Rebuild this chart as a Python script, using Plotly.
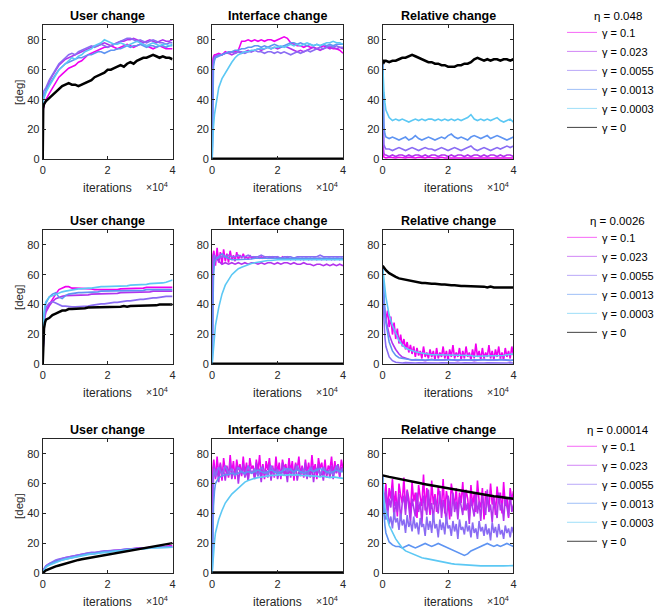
import plotly.graph_objects as go

W, H = 669, 608

# ---------------- sampling grids (iterations) ----------------
X44 = [0, 150, 400, 700] + list(range(1000, 40001, 1000))
X82 = [0, 150] + list(range(500, 40001, 500))
X2 = [0, 40000]

GAMMAS = ["γ = 0.1", "γ = 0.023", "γ = 0.0055", "γ = 0.0013", "γ = 0.0003", "γ = 0"]
ETAS = ["η = 0.048", "η = 0.0026", "η = 0.00014"]
TITLES = ["User change", "Interface change", "Relative change"]
COLORS = ["#f000f0", "#b233ee", "#8a6cf3", "#5e94f2", "#5cc8f4", "#000000"]
XTICKS = [0, 20000, 40000]
XTICKTEXT = ["0", "2", "4"]
YTICKS = [0, 20, 40, 60, 80]

# ---------------- eta = 0.048 ----------------
u1_a = [0, 33, 36, 38, 40, 44, 48, 52, 55, 57, 59, 61, 62, 63, 65, 66, 68, 70, 71, 72, 73, 74, 75, 75, 76, 75, 74, 75, 76, 77, 76, 75, 76, 77, 77, 76, 75, 74, 75, 76, 75, 74, 74, 74]
u1_b = [0, 40, 42, 44, 46, 52, 56, 60, 63, 65, 67, 68, 69, 70, 71, 72, 73, 74, 75, 76, 76, 77, 78, 77, 76, 77, 78, 79, 79, 80, 80, 81, 80, 79, 78, 79, 80, 79, 78, 79, 80, 79, 79, 80]
u1_c = [0, 44, 46, 47, 48, 53, 57, 61, 64, 66, 68, 70, 71, 70, 72, 73, 74, 75, 76, 75, 76, 77, 76, 75, 76, 77, 78, 79, 80, 81, 81, 80, 79, 80, 79, 78, 79, 80, 79, 78, 78, 77, 78, 78]
u1_d = [0, 42, 43, 45, 46, 50, 54, 57, 60, 62, 64, 65, 66, 67, 68, 68, 69, 70, 70, 71, 72, 72, 71, 72, 73, 73, 74, 74, 75, 76, 75, 76, 76, 77, 76, 75, 76, 76, 75, 76, 76, 75, 76, 76]
u1_e = [0, 40, 41, 43, 45, 49, 53, 57, 60, 62, 64, 66, 68, 67, 69, 70, 72, 73, 74, 76, 77, 78, 80, 79, 78, 77, 77, 78, 77, 76, 77, 78, 79, 78, 77, 76, 77, 78, 77, 76, 77, 77, 76, 77]
u1_k = [0, 34, 37, 38, 39, 41, 43, 45, 47, 49, 50, 51, 50, 50, 49, 50, 51, 52, 53, 55, 56, 57, 58, 60, 60, 61, 62, 63, 62, 64, 65, 64, 66, 67, 68, 68, 69, 70, 69, 68, 69, 68, 68, 67]

i1_a = [0, 66, 69, 70, 70, 71, 70, 72, 71, 72, 72, 73, 79, 79, 80, 79, 80, 79, 80, 79, 80, 80, 79, 80, 81, 82, 81, 78, 77, 76, 76, 75, 76, 75, 75, 74, 75, 76, 75, 75, 74, 74, 73, 71]
i1_b = [0, 65, 68, 69, 69, 70, 70, 71, 71, 70, 71, 72, 71, 72, 73, 72, 73, 74, 73, 74, 75, 74, 75, 74, 75, 76, 75, 74, 73, 72, 73, 72, 73, 74, 75, 74, 73, 74, 75, 74, 75, 74, 75, 74]
i1_c = [0, 60, 66, 68, 69, 70, 70, 71, 71, 72, 71, 72, 72, 71, 72, 72, 73, 72, 72, 71, 72, 72, 71, 72, 71, 72, 71, 70, 71, 72, 71, 72, 73, 72, 73, 74, 75, 74, 75, 76, 75, 76, 75, 75]
i1_d = [0, 45, 62, 66, 68, 69, 70, 71, 72, 72, 73, 73, 74, 74, 75, 75, 76, 76, 75, 76, 75, 76, 77, 76, 75, 76, 77, 78, 78, 77, 78, 77, 76, 77, 76, 77, 76, 77, 76, 77, 76, 77, 77, 77]
i1_e = [0, 10, 22, 30, 35, 48, 54, 58, 62, 65, 68, 70, 71, 72, 72, 73, 73, 74, 74, 74, 75, 74, 75, 75, 76, 75, 76, 77, 76, 77, 76, 77, 78, 77, 76, 77, 76, 77, 78, 78, 79, 78, 78, 77]
i1_k = [0, 0]

r1_a = [65, 3, 1.5, 1, 1, 1.5, 1, 1, 1.5, 1, 1, 1.5, 1, 1, 1.5, 1, 1, 1.5, 1, 1, 1, 1.5, 1, 1, 1.5, 1, 1, 1, 1.5, 1, 1, 1.5, 1, 1, 1, 1.5, 1, 1, 1.5, 1, 1, 1, 1.5, 1]
r1_b = [65, 10, 4, 3, 3, 2, 3, 2, 3, 3, 2, 3, 2, 3, 3, 2, 3, 2, 3, 3, 2, 3, 3, 2, 3, 2, 3, 3, 2, 3, 2, 3, 3, 2, 3, 2, 3, 3, 2, 3, 2, 3, 3, 2]
r1_c = [65, 25, 10, 8, 7, 7, 6, 7, 8, 7, 6, 7, 8, 7, 6, 7, 8, 7, 7, 6, 7, 8, 7, 6, 7, 8, 7, 6, 7, 8, 9, 7, 6, 7, 8, 7, 6, 7, 8, 7, 8, 9, 8, 9]
r1_d = [65, 40, 22, 17, 15, 14, 15, 14, 13, 14, 15, 13, 14, 16, 14, 13, 14, 15, 14, 13, 14, 15, 14, 16, 17, 15, 14, 15, 14, 13, 15, 16, 15, 14, 15, 16, 14, 15, 16, 15, 14, 13, 14, 15]
r1_e = [65, 55, 45, 38, 33, 28, 26, 27, 26, 27, 26, 25, 26, 27, 26, 27, 26, 27, 27, 26, 27, 26, 27, 26, 27, 26, 27, 26, 27, 28, 30, 27, 26, 27, 26, 27, 26, 27, 28, 26, 25, 26, 27, 25]
r1_k = [66, 66, 65, 66, 66, 65, 66, 66, 67, 68, 68, 69, 70, 69, 68, 67, 66, 65, 65, 64, 64, 63, 63, 62, 62, 62, 63, 63, 64, 64, 65, 67, 68, 67, 66, 67, 66, 67, 67, 66, 67, 67, 66, 67]

# ---------------- eta = 0.0026 ----------------
u2_a = [0, 20, 30, 34, 36, 40, 44, 47, 50, 51, 52, 52, 51, 51, 51, 51, 51, 50.5, 50.5, 50, 50, 50, 50, 50, 49.5, 50, 50, 50.5, 50.5, 50.5, 51, 51, 51, 51, 51, 51.5, 51.5, 51.5, 51.5, 52, 52, 52, 52, 51.5]
u2_b = [0, 18, 28, 32, 35, 39, 42, 44, 45, 45.5, 46, 46, 46, 46, 46.5, 46.5, 46.5, 46.5, 47, 47, 47, 47, 47, 47.5, 47.5, 47.5, 47.5, 48, 48, 48, 48, 48, 48, 48.5, 48.5, 48.5, 48.5, 49, 49, 49, 49, 49, 49, 49]
u2_c = [0, 18, 28, 34, 38, 41, 42, 41, 40, 39, 39, 38.5, 38.5, 38.5, 38.5, 39, 39, 39, 39.5, 40, 40, 40.5, 40.5, 41, 41, 41.5, 41.5, 42, 42, 42.5, 42.5, 43, 43, 43.5, 43.5, 44, 44, 44.5, 44.5, 45, 45, 45.5, 45.5, 45.5]
u2_d = [0, 20, 32, 38, 41, 45, 47, 48, 45, 44, 46, 47, 47.5, 48, 48, 48, 48, 48.5, 48.5, 48.5, 48.5, 49, 49, 49, 49, 49, 49, 49, 49.5, 49.5, 49.5, 49.5, 49.5, 49.5, 49.5, 50, 50, 50, 50, 50, 50, 50, 50, 50]
u2_e = [0, 22, 34, 40, 42, 45, 46, 47, 48, 48.5, 49, 49.5, 50, 50, 50.5, 50.5, 51, 51, 51, 51.5, 51.5, 52, 52, 52, 52, 52, 52, 52.5, 52.5, 52.5, 53, 53, 53, 53.5, 53.5, 53.5, 54, 54, 54, 54.5, 54.5, 55, 55.5, 56.5]
u2_k = [0, 15, 24, 28, 30, 31, 33, 34, 35, 36, 36, 37, 37, 37, 37, 37.5, 37.5, 38, 38, 38, 38, 38, 38, 38, 38, 38.5, 38.5, 38.5, 39, 38.5, 39, 39, 39, 39, 39, 39.5, 39.5, 39.5, 39.5, 40, 40, 40, 40, 40]

i2_a = [0, 72, 76, 66, 78, 68, 75, 67, 77, 69, 74, 68, 76, 70, 73, 69, 75, 70, 73, 71, 74, 71, 72, 70, 73, 71, 72, 71, 72, 72, 71, 72, 71, 72, 71, 71, 72, 71, 72, 71, 71, 72, 71, 71, 72, 71, 71, 72, 71, 70, 71, 71, 70, 71, 71, 70, 71, 70, 71, 71, 70, 71, 70, 71, 71, 70, 71, 71, 70, 71, 71, 70, 71, 71, 70, 71, 70, 71, 71, 70, 71, 70]
i2_b = [0, 70, 74, 68, 72, 69, 67, 68, 67, 68, 67, 68, 67, 68, 67, 68, 68, 67, 68, 67, 68, 68, 67, 68, 67, 68, 68, 67, 68, 67, 67, 68, 67, 67, 66, 67, 67, 66, 67, 66, 67, 66, 67, 66]
i2_c = [0, 60, 70, 73, 72, 71, 72, 72, 73, 72, 72, 73, 72, 72, 73, 72, 72, 72, 73, 72, 72, 72, 72, 72, 71, 72, 72, 72, 71, 72, 72, 72, 72, 72, 72, 72, 73, 72, 72, 72, 72, 72, 72, 72]
i2_d = [0, 40, 60, 68, 70, 72, 74, 72, 71, 70, 70, 70, 70, 70.5, 70.5, 70.5, 71, 71, 71, 71, 71, 71, 71.5, 71.5, 71, 71, 71, 71.5, 71.5, 71.5, 71, 71, 71, 71.5, 71.5, 71.5, 71.5, 71, 71, 71, 71.5, 71.5, 71, 71]
i2_e = [0, 5, 12, 20, 26, 38, 47, 53, 57, 60, 62, 64, 65, 66, 67, 67.5, 68, 68.5, 69, 69, 69.5, 69.5, 70, 70, 70, 70, 70, 70.5, 70.5, 70, 70, 70, 70.5, 70.5, 70.5, 70, 70, 70, 70.5, 70.5, 70, 70, 70, 70]
i2_k = [0, 0]

r2_a = [65, 45, 38, 30, 36, 25, 32, 20, 28, 17, 24, 14, 20, 12, 17, 10, 15, 8, 13, 7, 12, 5, 11, 6, 9, 4, 12, 5, 8, 4, 10, 5, 9, 3, 11, 4, 8, 5, 12, 4, 9, 3, 10, 5, 13, 4, 8, 5, 11, 3, 9, 4, 12, 5, 8, 3, 10, 4, 14, 5, 9, 3, 11, 4, 8, 5, 13, 4, 9, 3, 10, 5, 12, 4, 8, 3, 11, 5, 9, 4, 12, 6]
r2_b = [65, 55, 42, 35, 30, 20, 14, 10, 7, 5, 4, 3.5, 3, 3, 3.5, 3, 2.5, 3, 3.5, 3, 3, 2.5, 3, 3.5, 3, 3, 2.5, 3, 3, 3.5, 3, 2.5, 3, 3, 3.5, 3, 3, 2.5, 3, 3.5, 3, 3, 2.5, 3]
r2_c = [65, 50, 30, 18, 12, 5, 2.5, 1.5, 1.2, 1, 1.2, 1, 0.9, 1, 1.1, 1, 1, 1.2, 1, 0.9, 1, 1.1, 1, 1, 1.2, 1, 0.9, 1, 1.1, 1, 1, 1.2, 1, 0.9, 1, 1.1, 1, 1, 1.2, 1, 0.9, 1, 1.1, 1]
r2_d = [65, 58, 45, 35, 28, 15, 9, 6, 4.5, 4, 3.5, 3.5, 3, 3.2, 3, 2.8, 3, 3.1, 3, 3, 3.2, 3, 2.8, 3, 3.1, 3, 3, 3.2, 3, 2.8, 3, 3.1, 3, 3, 3.2, 3, 2.8, 3, 3.1, 3, 3, 3.2, 3, 2.8]
r2_e = [65, 62, 56, 50, 45, 33, 26, 21, 16, 13, 11, 10, 9, 8.5, 8, 7.5, 7, 7, 6.5, 6.5, 6.5, 6, 6, 6, 6, 6, 6.5, 6.5, 6, 6, 6, 5.5, 5.5, 6, 6, 6, 6, 5.5, 5.5, 5.5, 6, 6.5, 7, 7]
r2_k = [66, 65.5, 65, 64, 63, 61, 59.5, 58.5, 57.5, 57, 56.5, 56, 55.5, 55, 55, 54.5, 54.5, 54, 54, 54, 53.5, 53.5, 53.5, 53, 53, 53, 52.5, 52.5, 52.5, 52.5, 52, 52, 52, 52, 52, 51.5, 52, 51.5, 51.5, 51.5, 51.5, 51.5, 51.5, 51.5]

# ---------------- eta = 0.00014 ----------------
u3_a = [0, 1.5, 2.5, 3.5, 4.5, 6, 7, 8, 9, 9.5, 10, 10.5, 11, 11.5, 12, 12, 12.5, 13, 13, 13.5, 14, 14, 14.5, 14.5, 15, 15, 15.5, 15.5, 16, 16, 16.5, 16.5, 16.5, 17, 17, 17, 17.5, 17.5, 17.5, 18, 18, 18, 18.5, 18.5]
u3_b = [0, 1.5, 3, 4, 5, 6.5, 7.5, 8.5, 9, 10, 10.5, 11, 11.5, 12, 12, 12.5, 13, 13.5, 13.5, 14, 14, 14.5, 14.5, 15, 15, 15.5, 15.5, 16, 16, 16, 16.5, 16.5, 17, 17, 17, 17.5, 17.5, 17.5, 18, 18, 18, 18, 18.5, 18]
u3_c = [0, 1.5, 3, 4, 5, 6.5, 8, 9, 9.5, 10, 10.5, 11, 11.5, 12, 12.5, 13, 13, 13.5, 14, 14, 14.5, 14.5, 15, 15, 15.5, 15.5, 15.5, 16, 16, 16.5, 16.5, 16.5, 17, 17, 17, 17, 17.5, 17.5, 17.5, 17.5, 17.5, 17.5, 17.5, 17.5]
u3_d = [0, 1, 2.5, 3.5, 4.5, 6, 7, 8, 8.5, 9.5, 10, 10.5, 11, 11.5, 12, 12, 12.5, 13, 13, 13.5, 13.5, 14, 14, 14.5, 14.5, 15, 15, 15.5, 15.5, 16, 16, 16, 16.5, 16.5, 16.5, 17, 17, 17, 17, 17.5, 17.5, 17.5, 17.5, 17.5]
u3_e = [0, 1, 2, 3, 4, 5.5, 6.5, 7.5, 8.5, 9, 9.5, 10, 10.5, 11, 11.5, 12, 12, 12.5, 13, 13, 13.5, 13.5, 14, 14, 14.5, 14.5, 15, 15, 15.5, 15.5, 16, 16, 16, 16.5, 16.5, 16.5, 17, 17, 17, 17.5, 17.5, 17.5, 17.5, 17.5]
u3_k = [0, 0.5, 1, 1.5, 2, 3, 4, 4.7, 5.3, 6, 6.6, 7.2, 7.8, 8.5, 9, 9.4, 9.8, 10.2, 10.6, 11, 11.4, 11.8, 12.2, 12.6, 13, 13.3, 13.6, 14, 14.4, 14.8, 15.2, 15.6, 16, 16.4, 16.8, 17.1, 17.4, 17.8, 18.2, 18.6, 19, 19.4, 19.8, 20.2]

i3_a = [0, 70, 76, 63, 78, 66, 74, 62, 77, 68, 72, 64, 79, 67, 75, 63, 76, 69, 73, 65, 78, 66, 74, 62, 77, 70, 72, 64, 76, 68, 79, 65, 73, 63, 75, 69, 77, 66, 72, 64, 78, 67, 74, 63, 76, 70, 73, 65, 77, 68, 75, 62, 74, 69, 78, 66, 72, 64, 76, 67, 74, 65, 79, 68, 73, 63, 77, 70, 74, 66, 76, 64, 72, 69, 78, 65, 75, 67, 73, 64, 76, 70]
i3_b = [0, 65, 72, 64, 70, 61, 73, 66, 69, 62, 71, 65, 74, 63, 68, 67, 72, 60, 70, 66, 73, 64, 69, 62, 71, 67, 68, 63, 74, 65, 70, 61, 72, 66, 69, 64, 73, 62, 70, 67, 71, 63, 68, 65, 74, 66, 69, 61, 72, 64, 70, 67, 73, 62, 68, 65, 71, 66, 74, 63, 69, 64, 72, 61, 70, 67, 73, 65, 68, 62, 71, 66, 69, 64, 72, 63, 70, 67, 73, 65, 71, 68]
i3_c = [0, 55, 66, 70, 65, 71, 66, 72, 67, 70, 65, 71, 68, 66, 72, 67, 70, 65, 71, 68, 66, 72, 67, 69, 65, 71, 68, 70, 66, 72, 67, 69, 65, 71, 68, 70, 66, 71, 67, 69, 66, 72, 68, 70]
i3_d = [0, 20, 45, 55, 60, 64, 65, 66, 66, 67, 66, 67, 68, 67, 68, 67, 68, 69, 68, 67, 68, 69, 68, 67, 68, 69, 70, 69, 68, 69, 68, 67, 68, 69, 68, 69, 70, 69, 68, 67, 68, 69, 68, 68]
i3_e = [0, 6, 14, 21, 27, 36, 42, 47, 50, 53, 55, 57, 59, 61, 62, 63, 63.5, 64, 64.5, 65, 65, 65.5, 65.5, 66, 66, 65.5, 66, 66, 65.5, 66, 65.5, 65.5, 65, 65.5, 65, 65, 64.5, 65, 64.5, 64, 64.5, 64, 64, 63.5]
i3_k = [0, 0]

r3_a = [65, 55, 48, 60, 42, 57, 50, 63, 45, 55, 38, 60, 52, 47, 64, 43, 56, 50, 40, 61, 48, 54, 37, 59, 51, 45, 66, 42, 57, 49, 39, 62, 46, 53, 41, 58, 50, 44, 63, 40, 55, 48, 36, 60, 52, 45, 57, 39, 54, 47, 61, 42, 56, 50, 38, 59, 45, 53, 41, 62, 48, 44, 57, 36, 55, 50, 43, 60, 46, 52, 39, 58, 47, 54, 40, 61, 45, 51, 37, 57, 49, 55]
r3_b = [65, 50, 42, 55, 38, 50, 44, 57, 36, 48, 41, 53, 35, 47, 52, 39, 55, 43, 34, 50, 45, 38, 54, 41, 48, 33, 52, 44, 39, 56, 42, 47, 35, 51, 45, 40, 55, 37, 49, 43, 34, 52, 46, 38, 54, 41, 48, 36, 51, 44, 39, 55, 42, 47, 33, 50, 45, 38, 53, 40, 48, 35, 52, 44, 39, 56, 41, 46, 34, 50, 43, 37, 54, 42, 47, 35, 51, 44, 38, 53, 41, 46]
r3_c = [65, 50, 40, 36, 42, 33, 38, 30, 41, 34, 37, 29, 40, 32, 36, 27, 39, 31, 35, 28, 38, 30, 34, 26, 37, 31, 33, 25, 38, 29, 35, 27, 40, 30, 33, 24, 36, 29, 34, 26, 38, 30, 32, 25, 35, 28, 33, 23, 36, 29, 31, 26, 35, 28, 32, 24, 34, 27, 30, 23, 35, 28, 31, 25, 33, 26, 30, 22, 34, 27, 31, 24, 33, 26, 29, 23, 32, 27, 30, 24, 31, 27]
r3_d = [65, 52, 40, 32, 27, 21, 19, 18, 18, 17, 18, 19, 18, 17, 18, 19, 20, 19, 18, 19, 20, 19, 18, 17, 16, 15, 14, 13, 12, 13, 15, 16, 17, 18, 19, 20, 19, 18, 19, 18, 19, 20, 19, 18]
r3_e = [65, 58, 50, 44, 40, 32, 27, 23, 20, 17, 15, 14, 13, 12, 11, 10.5, 10, 9.5, 9, 8.5, 8, 7.5, 7, 6.8, 6.5, 6.2, 6, 5.8, 5.5, 5.3, 5.2, 5, 5, 5, 5, 4.8, 5, 5, 5.2, 5, 5, 5.2, 5.3, 5.2]
r3_k = [65.5, 65.5, 65.3, 65.2, 65, 64.5, 64, 63.5, 63, 62.5, 62, 61.5, 61, 60.7, 60.3, 60, 59.6, 59.2, 58.8, 58.4, 58, 57.6, 57.2, 56.8, 56.4, 56, 55.6, 55.2, 54.8, 54.4, 54, 53.6, 53.2, 52.8, 52.5, 52.2, 51.9, 51.6, 51.3, 51, 50.7, 50.4, 50.1, 49.8]

PANELS = [
    [[u1_a, u1_b, u1_c, u1_d, u1_e, u1_k], [i1_a, i1_b, i1_c, i1_d, i1_e, i1_k], [r1_a, r1_b, r1_c, r1_d, r1_e, r1_k]],
    [[u2_a, u2_b, u2_c, u2_d, u2_e, u2_k], [i2_a, i2_b, i2_c, i2_d, i2_e, i2_k], [r2_a, r2_b, r2_c, r2_d, r2_e, r2_k]],
    [[u3_a, u3_b, u3_c, u3_d, u3_e, u3_k], [i3_a, i3_b, i3_c, i3_d, i3_e, i3_k], [r3_a, r3_b, r3_c, r3_d, r3_e, r3_k]],
]

GRIDS = {len(X44): X44, len(X82): X82, len(X2): X2}

# ---------------- layout geometry (pixels) ----------------
COL_PX = [(32, 163), (203, 335), (375, 507)]
ROW_PX = [(17, 153), (224, 360), (435, 571)]

def fx(p):
    return p / W

def fy(p):
    return 1 - p / H

FONT = "Liberation Sans, Arial, Helvetica, sans-serif"
AXC = "#262626"

fig = go.Figure()
layout = dict(
    width=W, height=H, margin=dict(l=0, r=0, t=0, b=0),
    paper_bgcolor="white", plot_bgcolor="white",
    font=dict(family=FONT, size=11, color=AXC),
    showlegend=True, hovermode=False,
)
annotations = []

for r in range(3):
    for c in range(3):
        k = r * 3 + c + 1
        xs = "" if k == 1 else str(k)
        for i, ys in enumerate(PANELS[r][c]):
            assert len(ys) in GRIDS, (r, c, i, len(ys))
            if i == 5:
                w = 4 if c == 1 else 2.5
            else:
                w = 1.6
            fig.add_trace(go.Scatter(
                x=GRIDS[len(ys)], y=ys, mode="lines",
                line=dict(color=COLORS[i], width=w),
                xaxis="x" + xs, yaxis="y" + xs, showlegend=False, hoverinfo="skip",
            ))
        (x0, x1), (y0, y1) = COL_PX[c], ROW_PX[r]
        layout["xaxis" + xs] = dict(
            domain=[fx(x0), fx(x1)], anchor="y" + xs, range=[0, 40000],
            tickvals=XTICKS, ticktext=XTICKTEXT, ticks="inside", ticklen=3,
            tickcolor=AXC, showline=True, linecolor=AXC, linewidth=1,
            mirror="allticks", showgrid=False, zeroline=False,
            tickfont=dict(size=11, color=AXC),
        )
        layout["yaxis" + xs] = dict(
            domain=[fy(y1), fy(y0)], anchor="x" + xs, range=[0, 90],
            tickvals=YTICKS, ticks="inside", ticklen=3,
            tickcolor=AXC, showline=True, linecolor=AXC, linewidth=1,
            mirror="allticks", showgrid=False, zeroline=False,
            tickfont=dict(size=11, color=AXC),
        )
        cx = (x0 + x1) / 2
        annotations.append(dict(text="<b>" + TITLES[c] + "</b>", x=fx(cx), y=fy(y0 - 9),
                                xref="paper", yref="paper", showarrow=False,
                                xanchor="center", yanchor="middle",
                                font=dict(size=12.5, color="black")))
        annotations.append(dict(text="iterations", x=fx(cx), y=fy(y1 + 29),
                                xref="paper", yref="paper", showarrow=False,
                                xanchor="center", yanchor="middle",
                                font=dict(size=12, color=AXC)))
        annotations.append(dict(text="×10<sup>4</sup>", x=fx(x1 - 16), y=fy(y1 + 27),
                                xref="paper", yref="paper", showarrow=False,
                                xanchor="center", yanchor="middle",
                                font=dict(size=10.5, color=AXC)))
        if c == 0:
            annotations.append(dict(text="[deg]", x=fx(8), y=fy((y0 + y1) / 2),
                                    xref="paper", yref="paper", showarrow=False,
                                    textangle=-90, xanchor="center", yanchor="middle",
                                    font=dict(size=11.5, color=AXC)))

    # legend for this eta row
    lname = "legend" if r == 0 else "legend" + str(r + 1)
    ka = str(r * 3 + 3)
    for i in range(6):
        fig.add_trace(go.Scatter(
            x=[None], y=[None], mode="lines",
            line=dict(color=COLORS[i], width=1),
            opacity=0.75 if i == 5 else 0.6,
            name=GAMMAS[i], legend=lname, xaxis="x" + ka, yaxis="y" + ka,
            hoverinfo="skip",
        ))
    y0 = ROW_PX[r][0]
    layout[lname] = dict(
        x=fx(556), y=fy(y0 - 7), xanchor="left", yanchor="top",
        bgcolor="rgba(0,0,0,0)", borderwidth=0,
        font=dict(size=11, color="black"), tracegroupgap=0,
    )
    annotations.append(dict(text=ETAS[r], x=fx(612), y=fy(y0 - 9),
                            xref="paper", yref="paper", showarrow=False,
                            xanchor="center", yanchor="middle",
                            font=dict(size=11.5, color="black")))

layout["annotations"] = annotations
fig.update_layout(**layout)
fig.write_html("out.html")
